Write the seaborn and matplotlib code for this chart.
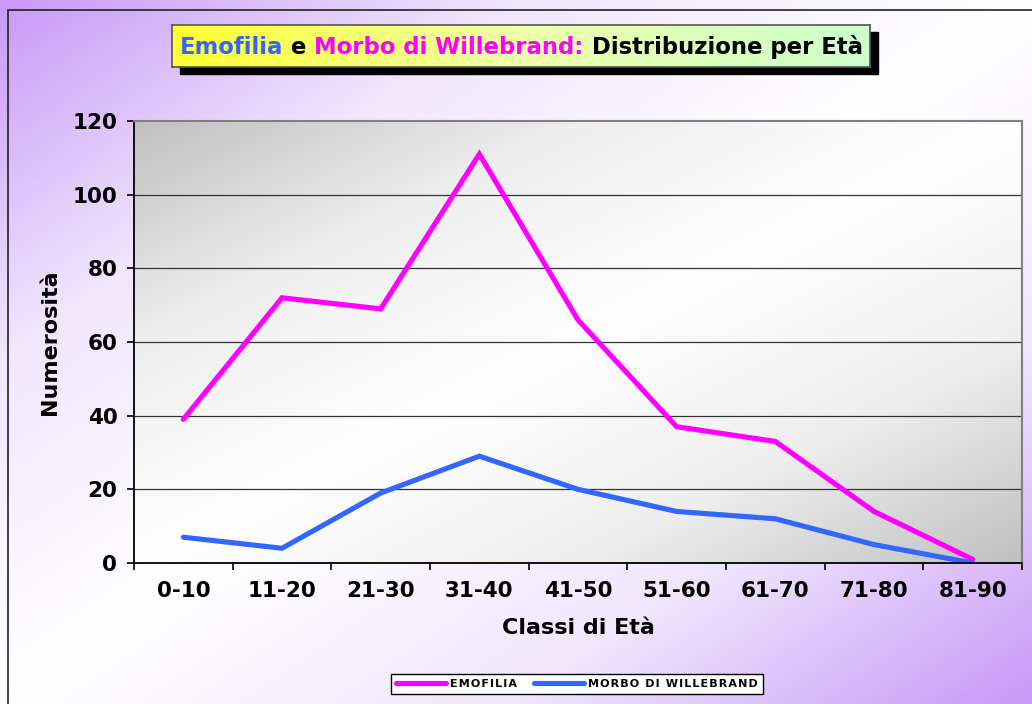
import numpy as np
import pandas as pd
import seaborn as sns
import matplotlib.pyplot as plt
from matplotlib.patches import Rectangle
from matplotlib.colors import LinearSegmentedColormap

# dati
classi = ['0-10', '11-20', '21-30', '31-40', '41-50', '51-60', '61-70', '71-80', '81-90']
emofilia = [39, 72, 69, 111, 66, 37, 33, 14, 1]
willebrand = [7, 4, 19, 29, 20, 14, 12, 5, 0]
serie = ['EMOFILIA', 'MORBO DI WILLEBRAND']
colori = {'EMOFILIA': '#ff00ff', 'MORBO DI WILLEBRAND': '#3366ff'}
y_ticks = [0, 20, 40, 60, 80, 100, 120]

df = pd.DataFrame({
    'pos': list(range(len(classi))) * 2,
    'valore': emofilia + willebrand,
    'serie': [serie[0]] * len(classi) + [serie[1]] * len(classi),
})

W, H = 1032, 704
fig = plt.figure(figsize=(W / 100, H / 100), dpi=100)


def diag_gradient(n=300):
    xx, yy = np.meshgrid(np.linspace(0, 1, n), np.linspace(0, 1, n))
    t = (xx + yy) / 2
    return np.abs(2 * t - 1)


# sfondo viola sfumato
bg = fig.add_axes([0, 0, 1, 1], zorder=-10)
cmap_bg = LinearSegmentedColormap.from_list('bg', ['#ffffff', '#f0e6fe', '#c999f7'])
bg.imshow(diag_gradient(), cmap=cmap_bg, aspect='auto', extent=[0, 1, 0, 1], origin='upper')
bg.add_patch(Rectangle((8 / W, -0.1), 1.2, 1 - 10 / H + 0.1, fill=False, ec='#222222', lw=1.2))
bg.set_xlim(0, 1)
bg.set_ylim(0, 1)
bg.axis('off')

# area del grafico
x0, x1, ytop, ybot = 134, 1022, 121, 563
ax = fig.add_axes([x0 / W, 1 - ybot / H, (x1 - x0) / W, (ybot - ytop) / H])
cmap_pa = LinearSegmentedColormap.from_list('pa', ['#ffffff', '#eeeeee', '#c0c0c0'])
ax.imshow(diag_gradient(), cmap=cmap_pa, aspect='auto', extent=[0, 1, 0, 1],
          transform=ax.transAxes, origin='upper', zorder=-1)

for y in y_ticks[1:-1]:
    ax.axhline(y, color='#333333', lw=0.9, zorder=0.5)

sns.lineplot(data=df, x='pos', y='valore', hue='serie', palette=colori,
             linewidth=3.7, ax=ax, legend=False)
for ln in ax.lines[-2:]:
    ln.set_solid_joinstyle('miter')
    ln.set_solid_capstyle('round')

ax.set_xlim(-0.5, len(classi) - 0.5)
ax.set_ylim(0, 120)
ax.set_xticks(np.arange(-0.5, len(classi), 1))
ax.set_xticklabels([])
ax.set_xticks(range(len(classi)), minor=True)
ax.set_xticklabels(classi, minor=True, fontsize=15.5, fontweight='bold')
ax.tick_params(axis='x', which='major', direction='out', length=5, width=1.2)
ax.tick_params(axis='x', which='minor', length=0, pad=13)
ax.set_yticks(y_ticks)
ax.set_yticklabels([str(v) for v in y_ticks], fontsize=15.5, fontweight='bold')
ax.tick_params(axis='y', direction='out', length=5, width=1.2, pad=7)

ax.set_xlabel('Classi di Età', fontsize=16, fontweight='bold', labelpad=12)
ax.set_ylabel('Numerosità', fontsize=16, fontweight='bold', labelpad=9)

for s in ['left', 'bottom']:
    ax.spines[s].set_color('#000000')
    ax.spines[s].set_linewidth(1.3)
for s in ['top', 'right']:
    ax.spines[s].set_color('#808080')
    ax.spines[s].set_linewidth(1.5)

# legenda (lettere spaziate come nell'originale)
etichette = ['\u200a'.join(s) for s in serie]
handles = ax.lines[-2:]
leg = fig.legend(handles, etichette, loc='center', bbox_to_anchor=(577 / W, 1 - 684 / H),
                 ncol=2, frameon=True, fancybox=False, edgecolor='black',
                 prop={'size': 8, 'weight': 'bold'}, handlelength=4.5,
                 columnspacing=1.5, handletextpad=0.4, borderpad=0.45)
leg.get_frame().set_linewidth(1.0)
leg.get_frame().set_facecolor('white')
leg.get_frame().set_alpha(1)

# titolo in riquadro con ombra
tx0, tx1, ty0, ty1 = 172, 870, 25, 67
bg.add_patch(Rectangle(((tx0 + 8) / W, 1 - (ty1 + 7) / H), (tx1 - tx0) / W, (ty1 - ty0) / H,
                       color='black', zorder=1))
tax = fig.add_axes([tx0 / W, 1 - ty1 / H, (tx1 - tx0) / W, (ty1 - ty0) / H], zorder=5)
grad = np.linspace(0, 1, 200).reshape(1, -1)
cmap_t = LinearSegmentedColormap.from_list('t', ['#ffff33', '#eeffaa', '#ccffcc'])
tax.imshow(grad, cmap=cmap_t, aspect='auto', extent=[0, 1, 0, 1])
tax.set_xticks([])
tax.set_yticks([])
for s in tax.spines.values():
    s.set_color('#555555')
    s.set_linewidth(1.2)

pezzi = [('Emofilia', '#3366ff'), (' e ', 'black'), ('Morbo di Willebrand:', '#ff00ff'),
         (' Distribuzione per Età', 'black')]
t = tax.text(0.011, 0.47, pezzi[0][0], color=pezzi[0][1], fontsize=16.4,
             fontweight='bold', va='center', ha='left', transform=tax.transAxes)
for testo, col in pezzi[1:]:
    t = tax.annotate(testo, xy=(1, 0), xycoords=t, va='bottom', ha='left',
                     color=col, fontsize=16.4, fontweight='bold')

fig.savefig('out.png', dpi=100)
